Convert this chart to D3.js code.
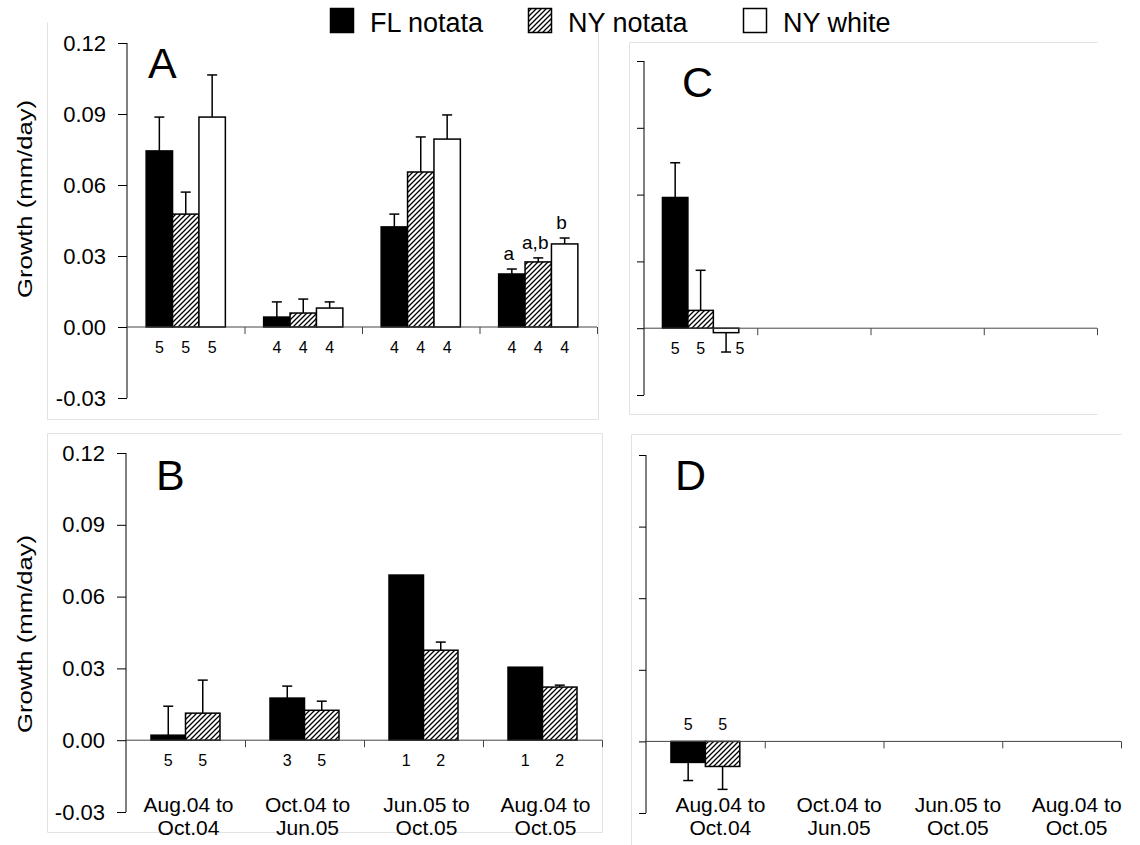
<!DOCTYPE html>
<html>
<head>
<meta charset="utf-8">
<script src="https://cdn.jsdelivr.net/npm/d3@7"></script>
<style>
  body { margin: 0; background: #fff; }
  text { font-family: "Liberation Sans", Arial, sans-serif; fill: #000; }
</style>
</head>
<body>
<script>
// categories (two-line labels)
const catLine1 = ["Aug.04 to", "Oct.04 to", "Jun.05 to", "Aug.04 to"];
const catLine2 = ["Oct.04", "Jun.05", "Oct.05", "Oct.05"];
const seriesNames = ["FL notata", "NY notata", "NY white"];

// panel A
const aMeans = [
  [0.0744, 0.0042, 0.0423, 0.0224],
  [0.0477, 0.0059, 0.0655, 0.0275],
  [0.0887, 0.0080, 0.0794, 0.0351]
];
const aErrs = [
  [0.0143, 0.0064, 0.0054, 0.0021],
  [0.0093, 0.0059, 0.0148, 0.0017],
  [0.0178, 0.0026, 0.0102, 0.0025]
];
const aN = [[5, 4, 4, 4], [5, 4, 4, 4], [5, 4, 4, 4]];
const aLetters = [[null, null, null, "a"], [null, null, null, "a,b"], [null, null, null, "b"]];

// panel B
const bMeans = [
  [0.0021, 0.0176, 0.0690, 0.0305],
  [0.0113, 0.0125, 0.0376, 0.0222]
];
const bErrs = [
  [0.0121, 0.0050, 0, 0],
  [0.0138, 0.0038, 0.0034, 0.0008]
];
const bN = [[5, 3, 1, 1], [5, 5, 2, 2]];

// panel C
const cMeans = [[0.0587, null, null, null], [0.0080, null, null, null], [-0.0020, null, null, null]];
const cErrs = [[0.0156, 0, 0, 0], [0.0180, 0, 0, 0], [0.0087, 0, 0, 0]];
const cN = [[5, null, null, null], [5, null, null, null], [5, null, null, null]];

// panel D
const dMeans = [[-0.0088, null, null, null], [-0.0105, null, null, null]];
const dErrs = [[0.0076, 0, 0, 0], [0.0096, 0, 0, 0]];
const dN = [[5, null, null, null], [5, null, null, null]];

const yTicks = [-0.03, 0, 0.03, 0.06, 0.09, 0.12];
const fills = ["#000", "url(#hatch)", "#fff"];

const w = 1140;
const h = 845;

const svg = d3.select("body").append("svg").attr("width", w).attr("height", h);

// hatch pattern
const defs = svg.append("defs");
const pat = defs.append("pattern")
  .attr("id", "hatch")
  .attr("patternUnits", "userSpaceOnUse")
  .attr("width", 5)
  .attr("height", 5);
pat.append("rect").attr("width", 5).attr("height", 5).attr("fill", "#fff");
pat.append("path")
  .attr("d", "M-1,1 l2,-2 M0,5 l5,-5 M4,6 l2,-2")
  .attr("stroke", "#000")
  .attr("stroke-width", 1.3);

// legend
const legendX = [330, 528, 743];
const legend = svg.append("g").attr("class", "legend");
seriesNames.forEach((name, i) => {
  legend.append("rect")
    .attr("x", legendX[i] + 0.5).attr("y", 8.5)
    .attr("width", 23).attr("height", 24)
    .attr("fill", fills[i]).attr("stroke", "#000").attr("stroke-width", 1.5);
  legend.append("text")
    .attr("x", legendX[i] + 40).attr("y", 32)
    .attr("font-size", 27)
    .text(name);
});

const panels = [
  { id: "A", xr: [127, 597], yr: [398, 43], means: aMeans, errs: aErrs, ns: aN, letters: aLetters,
    labels: true, cats: false, nAbove: false, letterPos: [21, 35],
    frame: [[47, 22, 47, 419], [598, 25, 598, 419], [47, 419, 598, 419]], title: 199 },
  { id: "B", xr: [126, 602], yr: [812, 453], means: bMeans, errs: bErrs, ns: bN,
    labels: true, cats: true, nAbove: false, letterPos: [30, 37], catDx: 3,
    frame: [[47, 433, 602, 433], [47, 433, 47, 832], [602, 433, 602, 832], [47, 832, 602, 832]], title: 634 },
  { id: "C", xr: [644, 1097], yr: [395, 61], means: cMeans, errs: cErrs, ns: cN,
    labels: false, cats: false, nAbove: false, letterPos: [38, 36],
    frame: [[629, 42, 1097, 42], [629, 42, 629, 414], [629, 414, 1097, 414]] },
  { id: "D", xr: [646, 1121], yr: [813, 455], means: dMeans, errs: dErrs, ns: dN,
    labels: false, cats: true, nAbove: true, letterPos: [29, 35], catDx: 15,
    frame: [[631, 434, 1121, 434], [631, 434, 631, 845]] }
];

panels.forEach((p) => {
  const g = svg.append("g").attr("class", "panel-" + p.id);

  // faint frame
  g.selectAll("line.frame")
    .data(p.frame)
    .enter()
    .append("line")
    .attr("class", "frame")
    .attr("x1", (d) => d[0] + 0.5).attr("y1", (d) => d[1] + 0.5)
    .attr("x2", (d) => d[2] + 0.5).attr("y2", (d) => d[3] + 0.5)
    .attr("stroke", "#e2e2e2")
    .attr("stroke-width", 1);

  const yScale = d3.scaleLinear().domain([-0.03, 0.12]).range(p.yr);
  const xBand = d3.scaleBand().domain(d3.range(4)).range(p.xr).padding(0);
  const xIdx = d3.scaleLinear().domain([0, 4]).range(p.xr);

  const nSeries = p.means.length;
  const bw = xBand.bandwidth() / (nSeries + 1.45);
  const barX = (s, i) => xBand(i) + xBand.bandwidth() / 2 - (nSeries * bw) / 2 + s * bw;

  // bars
  p.means.forEach((vals, s) => {
    vals.forEach((v, i) => {
      if (v === null) return;
      g.append("rect")
        .attr("x", barX(s, i))
        .attr("y", Math.min(yScale(v), yScale(0)))
        .attr("width", bw)
        .attr("height", Math.abs(yScale(v) - yScale(0)))
        .attr("fill", fills[s])
        .attr("stroke", "#000")
        .attr("stroke-width", 1.5);

      // error bar
      const e = p.errs[s][i];
      const cx = barX(s, i) + bw / 2;
      let errEnd = yScale(v);
      if (e > 0) {
        errEnd = yScale(v + (v >= 0 ? e : -e));
        g.append("line")
          .attr("x1", cx).attr("x2", cx)
          .attr("y1", yScale(v)).attr("y2", errEnd)
          .attr("stroke", "#000").attr("stroke-width", 1.5);
        g.append("line")
          .attr("x1", cx - 5).attr("x2", cx + 5)
          .attr("y1", errEnd).attr("y2", errEnd)
          .attr("stroke", "#000").attr("stroke-width", 1.5);
      }

      // significance letters
      if (p.letters && p.letters[s][i]) {
        g.append("text")
          .attr("x", cx - 3).attr("y", errEnd - 9)
          .attr("text-anchor", "middle")
          .attr("font-size", 19)
          .text(p.letters[s][i]);
      }

      // sample sizes
      const n = p.ns[s][i];
      if (n !== null) {
        g.append("text")
          .attr("x", cx + (v < 0 && !p.nAbove ? 14 : 0))
          .attr("y", p.nAbove ? yScale(0) - 11 : yScale(0) + 26)
          .attr("text-anchor", "middle")
          .attr("font-size", 16)
          .text(n);
      }
    });
  });

  // y axis
  const yAxis = d3.axisLeft(yScale)
    .tickValues(yTicks)
    .tickSize(p.labels ? 9 : 7)
    .tickPadding(12)
    .tickFormat(p.labels ? (d) => d.toFixed(2) : "");
  const ya = g.append("g")
    .attr("transform", `translate(${p.xr[0]},0)`)
    .call(yAxis);
  ya.select(".domain").attr("stroke", "#000").attr("d", `M0,${p.yr[0]}V${p.yr[1]}`);
  ya.selectAll(".tick line").attr("stroke", "#000");
  ya.selectAll(".tick text")
    .attr("font-size", 22)
    .attr("font-family", "'Liberation Sans', Arial, sans-serif")
    .attr("fill", "#000");

  // x axis (ticks between categories)
  const xAxis = d3.axisBottom(xIdx).tickValues([1, 2, 3, 4]).tickSize(7).tickFormat("");
  const xa = g.append("g")
    .attr("transform", `translate(0,${yScale(0)})`)
    .call(xAxis);
  xa.select(".domain").attr("stroke", "#444").attr("d", `M${p.xr[0]},0H${p.xr[1]}`);
  xa.selectAll(".tick line").attr("stroke", "#444");

  // category labels
  if (p.cats) {
    d3.range(4).forEach((i) => {
      const cx = xBand(i) + xBand.bandwidth() / 2 + p.catDx;
      g.append("text").attr("x", cx).attr("y", 812)
        .attr("text-anchor", "middle").attr("font-size", 21).text(catLine1[i]);
      g.append("text").attr("x", cx).attr("y", 835)
        .attr("text-anchor", "middle").attr("font-size", 21).text(catLine2[i]);
    });
  }

  // panel letter
  g.append("text")
    .attr("x", p.xr[0] + p.letterPos[0])
    .attr("y", p.yr[1] + p.letterPos[1])
    .attr("font-size", 43)
    .text(p.id);

  // y axis title
  if (p.title) {
    g.append("text")
      .attr("transform", `translate(32,${p.title}) rotate(-90)`)
      .attr("text-anchor", "middle")
      .attr("font-size", 21)
      .attr("textLength", 198)
      .attr("lengthAdjust", "spacingAndGlyphs")
      .text("Growth (mm/day)");
  }
});
</script>
</body>
</html>
